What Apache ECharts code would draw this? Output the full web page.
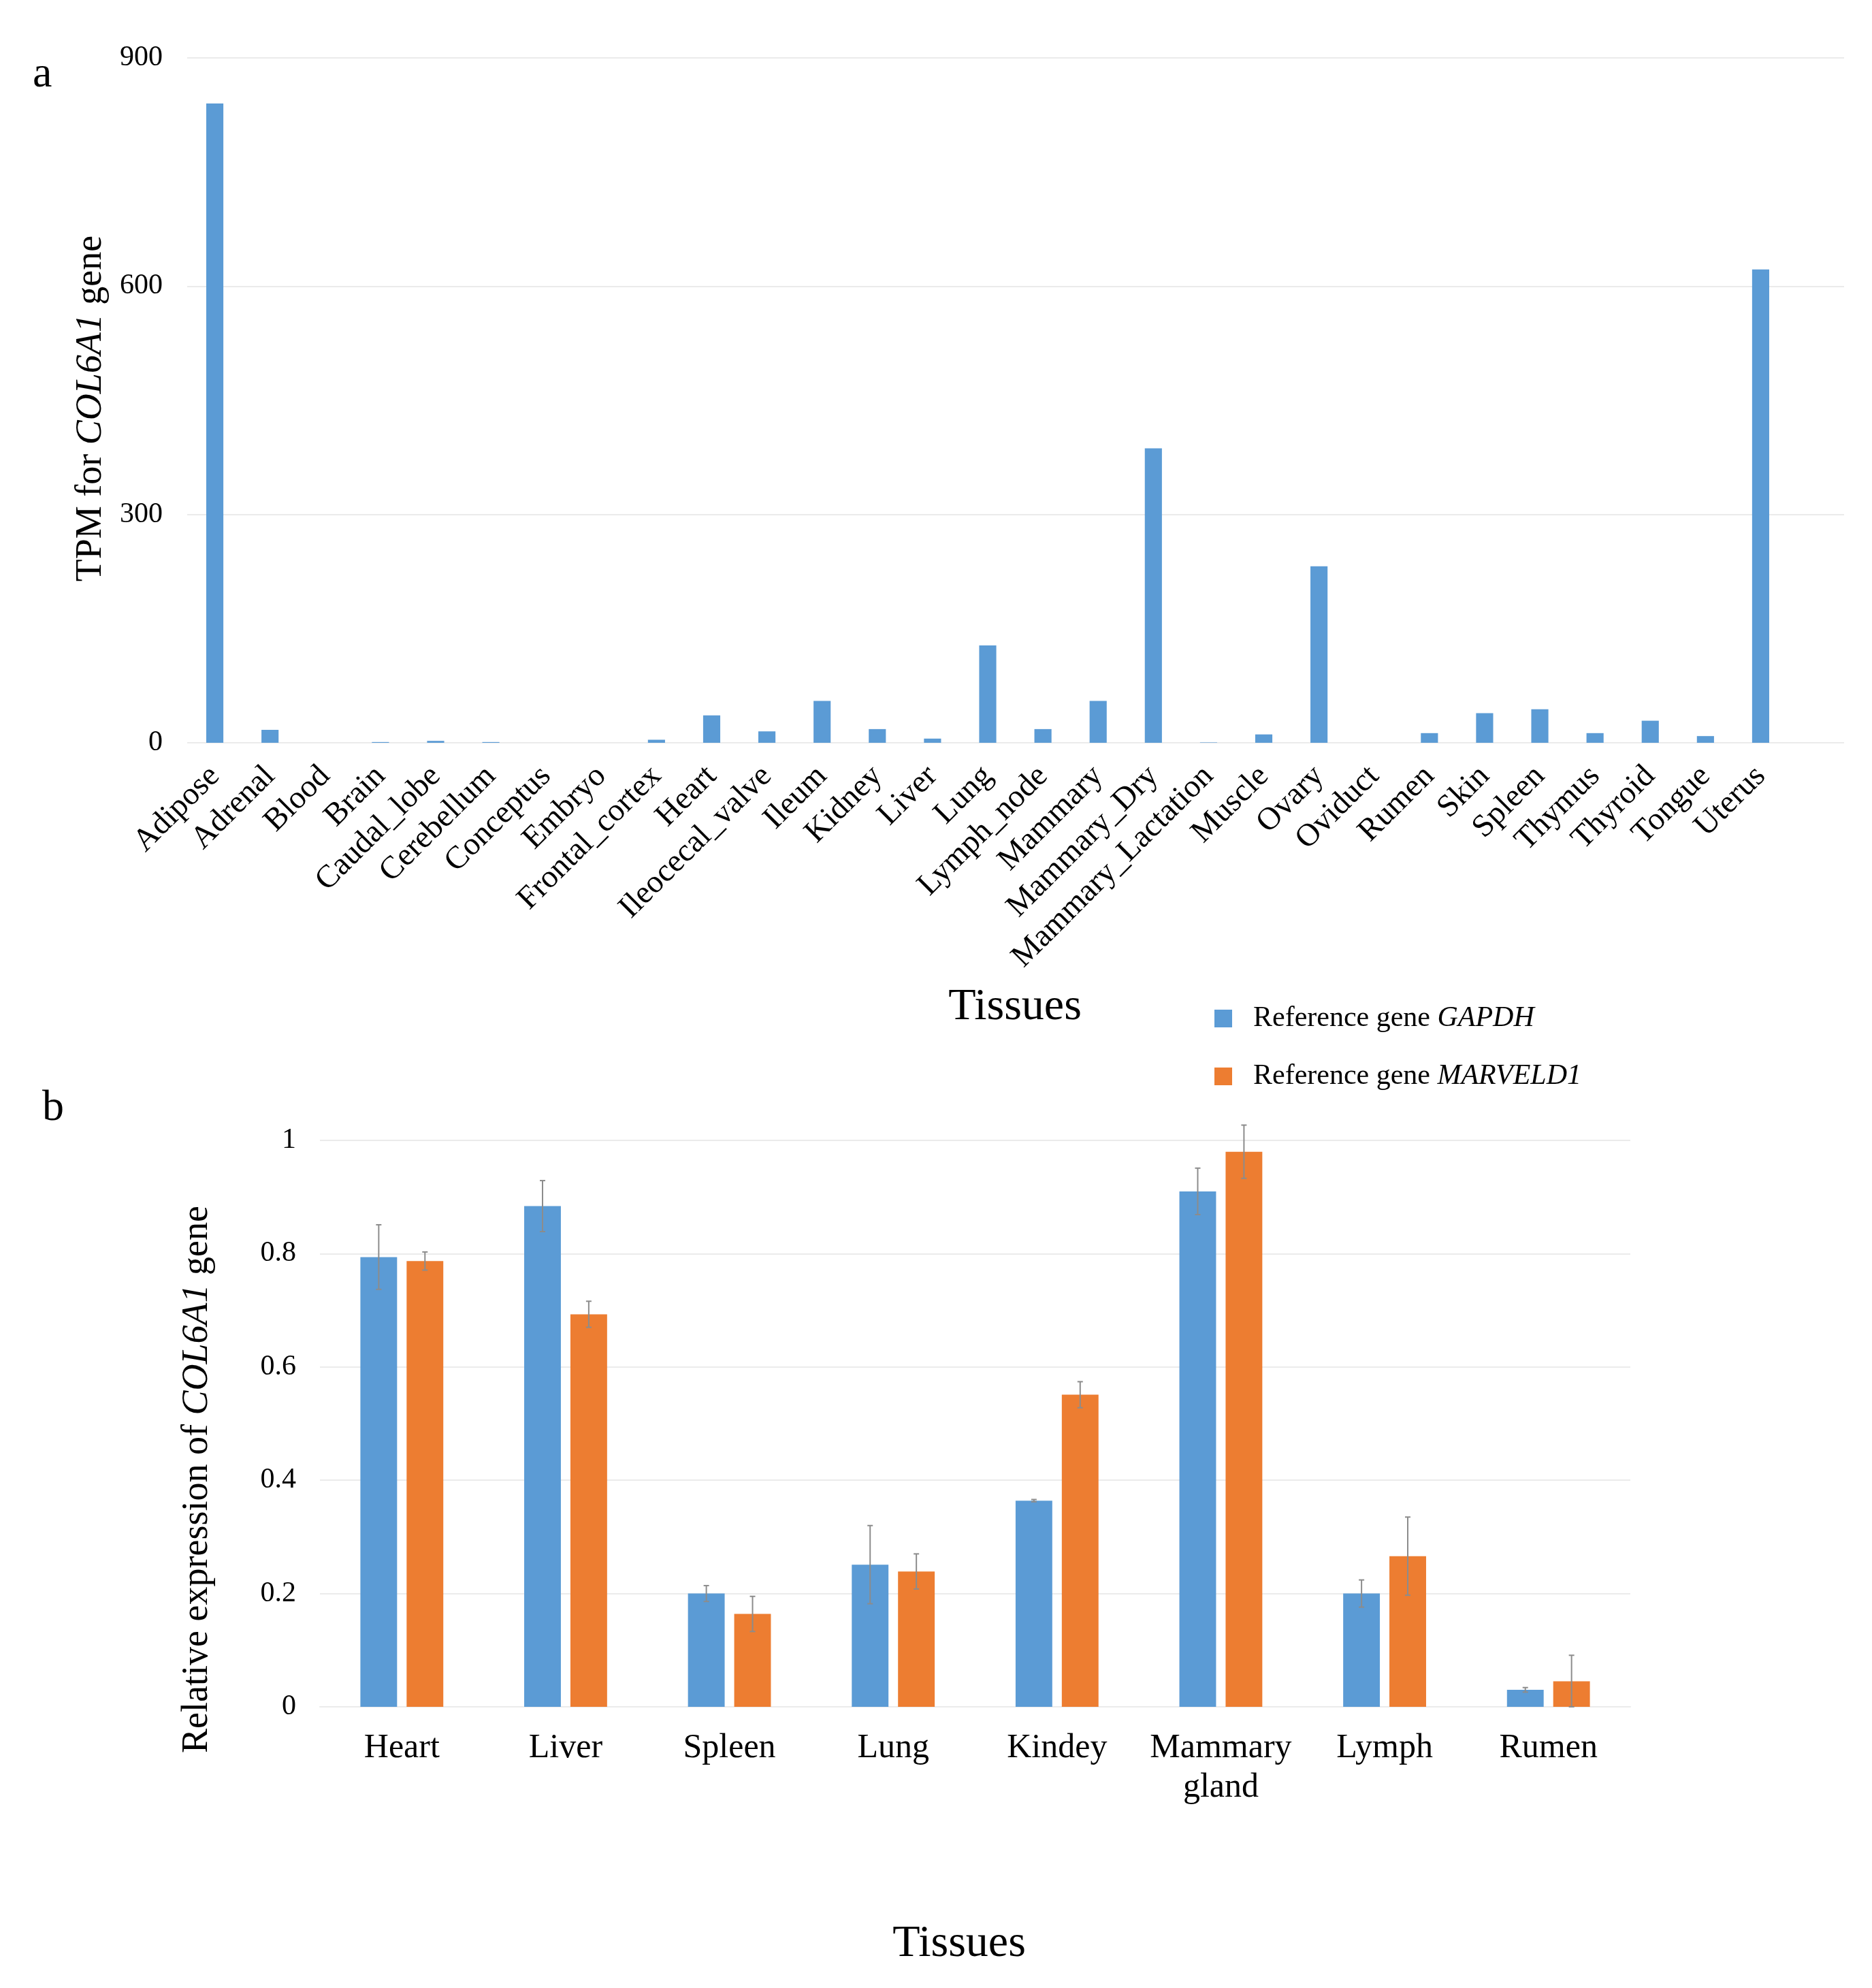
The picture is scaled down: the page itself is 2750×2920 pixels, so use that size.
<!DOCTYPE html>
<html>
<head>
<meta charset="utf-8">
<script src="https://cdn.jsdelivr.net/npm/echarts@6/dist/echarts.min.js"></script>
<style>
  html, body { margin: 0; padding: 0; background: #fff; }
  #chart { width: 2750px; height: 2920px; }
</style>
</head>
<body>
<div id="chart"></div>
<script>
// panel a: TPM per tissue
var tissuesA = ['Adipose', 'Adrenal', 'Blood', 'Brain', 'Caudal_lobe', 'Cerebellum', 'Conceptus',
  'Embryo', 'Frontal_cortex', 'Heart', 'Ileocecal_valve', 'Ileum', 'Kidney', 'Liver', 'Lung',
  'Lymph_node', 'Mammary', 'Mammary_Dry', 'Mammary_Lactation', 'Muscle', 'Ovary', 'Oviduct',
  'Rumen', 'Skin', 'Spleen', 'Thymus', 'Thyroid', 'Tongue', 'Uterus'];
var tpm = [840, 17, 0, 1, 2.5, 1, 0, 0, 4, 36, 15, 55, 18, 5.5, 128, 18, 55, 387, 0.5, 11,
  232, 0, 12.7, 39, 44, 12.7, 29, 8.8, 622];
var tpmTicks = [0, 300, 600, 900];

// panel b: relative expression (qPCR)
var tissuesB = ['Heart', 'Liver', 'Spleen', 'Lung', 'Kindey', 'Mammary\ngland', 'Lymph', 'Rumen'];
var genes = ['GAPDH', 'MARVELD1'];
var gapdh = [0.794, 0.884, 0.200, 0.251, 0.364, 0.910, 0.200, 0.030];
var gapdhErr = [0.057, 0.045, 0.014, 0.069, 0.002, 0.041, 0.024, 0.004];
var marveld1 = [0.787, 0.693, 0.164, 0.239, 0.551, 0.980, 0.266, 0.045];
var marveld1Err = [0.016, 0.023, 0.031, 0.031, 0.023, 0.047, 0.069, 0.046];

var FONT = 'Liberation Serif';
var BLUE = '#5b9bd5', ORANGE = '#ed7d31', GRID = '#ebebeb';
var BW = 0.224, GAP = 0.26;

var chart = echarts.init(document.getElementById('chart'));

function errData(vals, errs, side) {
  return vals.map(function (v, i) { return [i, v, errs[i], side]; });
}

function renderErr(params, api) {
  var i = api.value(0), v = api.value(1), e = api.value(2), side = api.value(3);
  var band = api.size([1, 0])[0];
  var off = side * band * BW * (1 + GAP) / 2;
  var top = api.coord([i, v + e]);
  var bot = api.coord([i, Math.max(v - e, 0)]);
  var x = top[0] + off;
  var st = { stroke: '#8c8c8c', lineWidth: 2 };
  return {
    type: 'group',
    children: [
      { type: 'line', shape: { x1: x, y1: top[1], x2: x, y2: bot[1] }, style: st },
      { type: 'line', shape: { x1: x - 4, y1: top[1], x2: x + 4, y2: top[1] }, style: st },
      { type: 'line', shape: { x1: x - 4, y1: bot[1], x2: x + 4, y2: bot[1] }, style: st }
    ]
  };
}

var richTitle = {
  n: { fontFamily: FONT, fontSize: 54, color: '#000' },
  i: { fontFamily: FONT, fontSize: 54, fontStyle: 'italic', color: '#000' }
};

var option = {
  backgroundColor: '#fff',
  animation: false,
  textStyle: { fontFamily: FONT },
  grid: [
    { left: 275, top: 85, width: 2352, height: 1006 },
    { left: 275, top: 85, width: 2434, height: 1006 },
    { left: 470, top: 1675, width: 1925, height: 832 }
  ],
  xAxis: [
    {
      gridIndex: 0, type: 'category', data: tissuesA,
      axisLine: { show: false }, axisTick: { show: false },
      axisLabel: { rotate: 45, margin: 42, interval: 0, fontFamily: FONT, fontSize: 47, color: '#000' }
    },
    { gridIndex: 1, type: 'value', show: false },
    {
      gridIndex: 2, type: 'category', data: tissuesB,
      axisLine: { lineStyle: { color: GRID, width: 2 } }, axisTick: { show: false },
      axisLabel: { margin: 32, interval: 0, fontFamily: FONT, fontSize: 50, lineHeight: 58, color: '#000' }
    }
  ],
  yAxis: [
    { gridIndex: 0, type: 'value', min: 0, max: 900, interval: 300, show: false },
    {
      gridIndex: 1, type: 'value', min: tpmTicks[0], max: tpmTicks[tpmTicks.length - 1], interval: 300,
      axisLine: { show: false }, axisTick: { show: false },
      splitLine: { lineStyle: { color: GRID, width: 2 } },
      axisLabel: { margin: 36, fontFamily: FONT, fontSize: 42, color: '#000' }
    },
    {
      gridIndex: 2, type: 'value', min: 0, max: 1, interval: 0.2,
      axisLine: { show: false }, axisTick: { show: false },
      splitLine: { lineStyle: { color: GRID, width: 2 } },
      axisLabel: { margin: 35, fontFamily: FONT, fontSize: 42, color: '#000' }
    }
  ],
  legend: {
    orient: 'vertical', left: 1779, top: 1470,
    itemWidth: 26, itemHeight: 26, itemGap: 43, icon: 'rect',
    data: ['Reference gene ' + genes[0], 'Reference gene ' + genes[1]],
    formatter: function (name) {
      return '{n|Reference gene }{i|' + name.replace('Reference gene ', '') + '}';
    },
    textStyle: {
      padding: [0, 0, 0, 26],
      rich: {
        n: { fontFamily: FONT, fontSize: 42, color: '#000' },
        i: { fontFamily: FONT, fontSize: 42, fontStyle: 'italic', color: '#000' }
      }
    }
  },
  series: [
    {
      type: 'bar', xAxisIndex: 0, yAxisIndex: 0, data: tpm,
      barWidth: '31%', itemStyle: { color: BLUE }
    },
    {
      name: 'Reference gene ' + genes[0], type: 'bar', xAxisIndex: 2, yAxisIndex: 2, data: gapdh,
      barWidth: (BW * 100) + '%', barGap: (GAP * 100) + '%', itemStyle: { color: BLUE }
    },
    {
      name: 'Reference gene ' + genes[1], type: 'bar', xAxisIndex: 2, yAxisIndex: 2, data: marveld1,
      barWidth: (BW * 100) + '%', barGap: (GAP * 100) + '%', itemStyle: { color: ORANGE }
    },
    {
      type: 'custom', xAxisIndex: 2, yAxisIndex: 2, z: 5, renderItem: renderErr,
      data: errData(gapdh, gapdhErr, -1).concat(errData(marveld1, marveld1Err, 1))
    }
  ],
  graphic: [
    { type: 'text', left: 48, top: 78, style: { text: 'a', font: '64px "Liberation Serif"', fill: '#000' } },
    { type: 'text', left: 62, top: 1596, style: { text: 'b', font: '64px "Liberation Serif"', fill: '#000' } },
    {
      type: 'text', x: 134, y: 600, rotation: Math.PI / 2,
      style: { text: '{n|TPM for }{i|COL6A1}{n| gene}', rich: richTitle, align: 'center', verticalAlign: 'middle' }
    },
    {
      type: 'text', x: 290, y: 2173, rotation: Math.PI / 2,
      style: { text: '{n|Relative expression of }{i|COL6A1}{n| gene}', rich: richTitle, align: 'center', verticalAlign: 'middle' }
    },
    {
      type: 'text', x: 1491, y: 1480,
      style: { text: 'Tissues', font: '66px "Liberation Serif"', fill: '#000', align: 'center', verticalAlign: 'middle' }
    },
    {
      type: 'text', x: 1409, y: 2856,
      style: { text: 'Tissues', font: '66px "Liberation Serif"', fill: '#000', align: 'center', verticalAlign: 'middle' }
    }
  ]
};

chart.setOption(option);
</script>
</body>
</html>
